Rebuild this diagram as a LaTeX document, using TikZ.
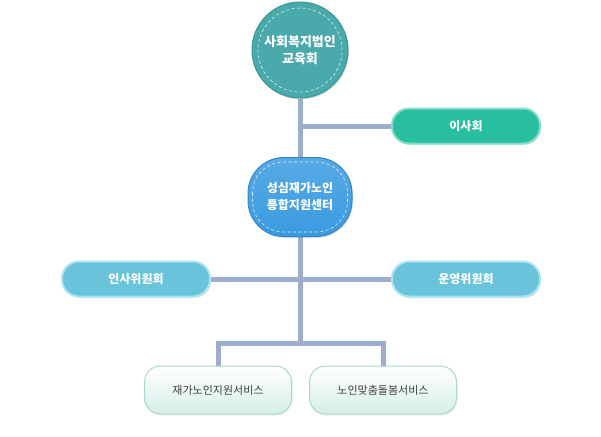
\documentclass[tikz,border=0pt]{standalone}
\usepackage{fontspec}
\setmainfont{Noto Sans CJK KR}
\usetikzlibrary{shadows,calc,backgrounds}

\definecolor{trunkcol}{HTML}{9FADCC}
\definecolor{corpcol}{HTML}{4AA9AB}
\definecolor{corpline}{HTML}{3A9496}
\definecolor{centercol}{HTML}{3A9BE0}
\definecolor{centerline}{HTML}{2F86C8}
\definecolor{boardcol}{HTML}{27BF9F}
\definecolor{boardline}{HTML}{82DEC9}
\definecolor{commcol}{HTML}{68C3DB}
\definecolor{commline}{HTML}{AEE3F1}
\definecolor{svcline}{HTML}{A9D8CF}
\definecolor{svcfill}{HTML}{D6EEE8}

\newcommand{\trunkX}{300}
\newcommand{\splitY}{343}

\tikzset{
  trunk/.style={draw=trunkcol,line width=5pt},
  pill/.style={rounded corners=17pt,minimum width=148pt,minimum height=35pt,
    line width=2pt,text=white,font=\bfseries\fontsize{12}{14}\selectfont,
    drop shadow={opacity=0.25,shadow xshift=1pt,shadow yshift=-1.5pt}},
  svcbox/.style={rounded corners=16pt,minimum width=147pt,minimum height=48pt,
    draw=svcline,line width=1pt,top color=white,bottom color=svcfill,
    text=black!75,font=\fontsize{11}{13}\selectfont,
    drop shadow={opacity=0.15,shadow xshift=1pt,shadow yshift=-1.5pt}},
  stitch/.style={draw=white,dash pattern=on 3pt off 2.5pt,line width=0.6pt,opacity=0.8}
}

\begin{document}
\begin{tikzpicture}[x=1pt,y=-1pt]
  \useasboundingbox (0,0) rectangle (601,436);

  % head nodes
  \node[circle,minimum size=96pt,inner sep=0,fill=corpcol,draw=corpline,line width=1pt,
    text=white,font=\bfseries\fontsize{13}{17}\selectfont,align=center,
    drop shadow={opacity=0.25,shadow xshift=1pt,shadow yshift=-1.5pt}]
    (corp) at (\trunkX,50) {사회복지법인\\교육회};
  \draw[stitch] (corp.center) circle (42pt);

  \node[rounded corners=36pt,minimum width=104pt,minimum height=79pt,inner sep=0,
    top color=centercol!85!white,bottom color=centercol,draw=centerline,line width=1pt,
    text=white,font=\bfseries\fontsize{12}{17}\selectfont,align=center,
    drop shadow={opacity=0.25,shadow xshift=1pt,shadow yshift=-1.5pt}]
    (center) at (\trunkX,197) {성심재가노인\\통합지원센터};
  \draw[stitch,rounded corners=31pt] ($(center.north west)+(5,5)$) rectangle ($(center.south east)+(-5,-5)$);

  % side boxes
  \node[pill,fill=boardcol,draw=boardline] (board) at (466,126) {이사회};
  \node[pill,fill=commcol,draw=commline] (hr) at (136,279) {인사위원회};
  \node[pill,fill=commcol,draw=commline] (ops) at (466,279) {운영위원회};

  % services
  \node[svcbox] (homecare) at (218,390) {재가노인지원서비스};
  \node[svcbox] (custom) at (383,390) {노인맞춤돌봄서비스};

  \coordinate (split) at (\trunkX,\splitY);

  % connectors
  \begin{pgfonlayer}{background}
    \draw[trunk] (corp.south) -- (center.north);
    \draw[trunk] (corp.south |- board.west) -- (board.west);
    \draw[trunk] (center.south) -- (split);
    \draw[trunk] (hr.east) -- (ops.west);
    \draw[trunk] (homecare.north) |- (split) -| (custom.north);
  \end{pgfonlayer}
\end{tikzpicture}
\end{document}
